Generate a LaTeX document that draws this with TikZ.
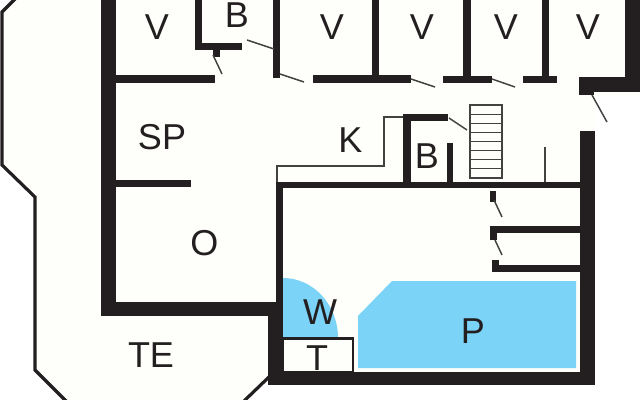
\documentclass[tikz,border=0pt]{standalone}
\usepackage{fontspec}
\setmainfont{Liberation Sans}
\definecolor{wallc}{HTML}{231F20}
\definecolor{poolc}{HTML}{7BD3F7}
\definecolor{paperc}{HTML}{FEFEFA}
\tikzset{
  x=0.75pt,y=-0.75pt,
  wall/.style={fill=wallc,draw=none},
  door/.style={draw=wallc!85,line width=1.1pt},
  thinl/.style={draw=wallc!85,line width=0.9pt},
  outline/.style={draw=wallc,line width=2.4pt},
  water/.style={fill=poolc,draw=none},
  lab/.style={font=\fontsize{27}{27}\selectfont,text=wallc,inner sep=0pt},
}
\begin{document}
\begin{tikzpicture}
\useasboundingbox (0,0) rectangle (640,400);
\fill[white] (0,0) rectangle (640,400);
\begin{scope}
\clip (0,0) rectangle (640,400);
% terrace and house floor
\fill[paperc] (16,-2) -- (2,12) -- (2,165) -- (35,197) -- (35,370) -- (67,402) -- (243,402) -- (270,376) -- (595,385) -- (595,95) -- (640,95) -- (640,-2) -- cycle;
\draw[outline] (16,-2) -- (2,12) -- (2,165) -- (35,197) -- (35,370) -- (67,402);
\draw[outline] (243,402) -- (270,376);
% water
\fill[water] (358,316) -- (392,281) -- (576,281) -- (576,368) -- (358,368) -- cycle;
\fill[water] (283,338) -- (283,278) arc[start angle=-90,end angle=0,x radius=55,y radius=60] -- cycle;
% thin lines
\draw[thinl] (277,182) -- (277,166) -- (384,166) -- (384,117) -- (404,117);
\draw[thinl] (545,147) -- (545,182);
% stairs
\draw[thinl] (470,105) rectangle (502,178);
\foreach \i in {1,...,7} \draw[thinl] (470,{105+\i*9.125}) -- (502,{105+\i*9.125});
% T box
\draw[draw=wallc,line width=1.6pt,fill=paperc] (283,338.5) -- (353,338.5) -- (353,372) -- (283,372) -- cycle;
% outer walls
\fill[wall] (101,0) rectangle (116,316);
\fill[wall] (101,302) rectangle (283,316);
\fill[wall] (268,316) rectangle (283,385);
\fill[wall] (276,182) rectangle (283,302);
\fill[wall] (268,372) rectangle (595,385);
\fill[wall] (580,131) rectangle (595,385);
\fill[wall] (625,0) rectangle (640,92);
\fill[wall] (579,77) rectangle (640,92);
\fill[wall] (579,77) rectangle (594,95);
% inner walls
\fill[wall] (276,182) rectangle (580,188);
\fill[wall] (116,75) rectangle (215,83);
\fill[wall] (116,180) rectangle (191,187);
\fill[wall] (195,0) rectangle (202,50);
\fill[wall] (195,43) rectangle (242,50);
\fill[wall] (213,50) rectangle (220,57);
\fill[wall] (273,0) rectangle (280,78);
\fill[wall] (313,75) rectangle (411,83);
\fill[wall] (372,0) rectangle (379,80);
\fill[wall] (443,76) rectangle (492,83);
\fill[wall] (463,0) rectangle (471,80);
\fill[wall] (523,76) rectangle (557,83);
\fill[wall] (542,0) rectangle (549,80);
\fill[wall] (403,114) rectangle (411,182);
\fill[wall] (403,114) rectangle (448,121);
\fill[wall] (447,143) rectangle (453,182);
\fill[wall] (490,191) rectangle (496,202);
\fill[wall] (490,226) rectangle (580,233);
\fill[wall] (490,226) rectangle (497,240);
\fill[wall] (492,265) rectangle (580,272);
\fill[wall] (492,260) rectangle (499,272);
% doors
\draw[door] (213,55) -- (222,74);
\draw[door] (247,40) -- (274,49);
\draw[door] (280,74) -- (304,82);
\draw[door] (411,79) -- (435,87);
\draw[door] (492,79) -- (515,87);
\draw[door] (592,95) -- (607,122);
\draw[door] (449,118) -- (467,130);
\draw[door] (494,200) -- (502,217);
\draw[door] (495,240) -- (502,255);
\end{scope}
% labels
\node[lab] (v1) at (157,27) {V};
\node[lab] (b1) at (237,15) {B};
\node[lab] (v2) at (332,27) {V};
\node[lab] (v3) at (422,27) {V};
\node[lab] (v4) at (506,27) {V};
\node[lab] (v5) at (588,27) {V};
\node[lab] (sp) at (162,137) {SP};
\node[lab] (k) at (350.5,140) {K};
\node[lab] (b2) at (427,156) {B};
\node[lab] (o) at (204.5,243) {O};
\node[lab] (w) at (320,312) {W};
\node[lab] (te) at (151,355) {TE};
\node[lab] (t) at (317,358) {T};
\node[lab] (p) at (473,331) {P};
\end{tikzpicture}
\end{document}
